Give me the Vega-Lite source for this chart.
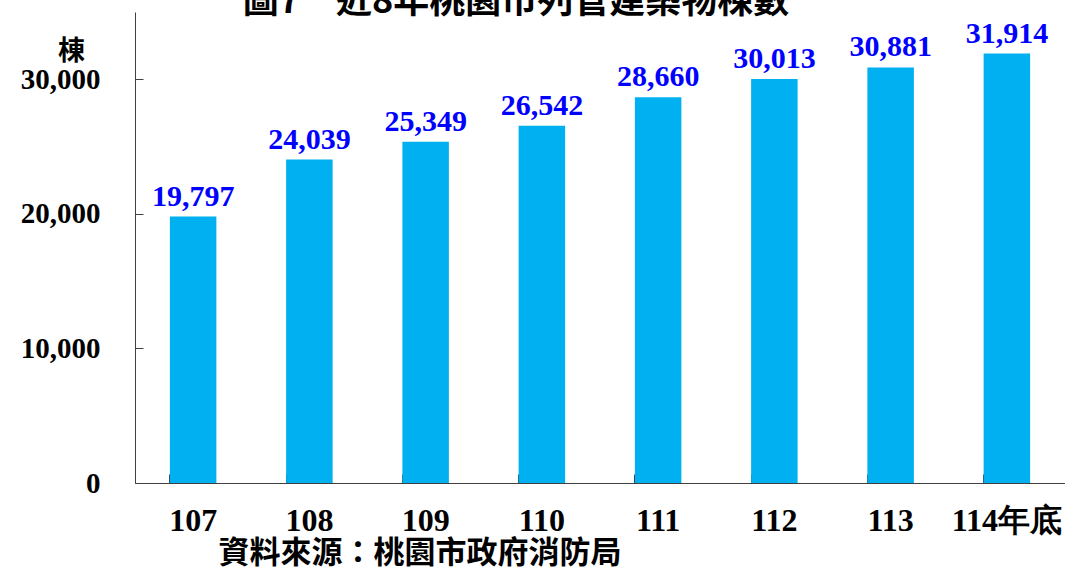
{
  "$schema": "https://vega.github.io/schema/vega-lite/v6.json",
  "autosize": "none",
  "width": 930,
  "height": 471,
  "padding": {"left": 135, "top": 12, "right": 0, "bottom": 87},
  "background": "white",
  "title": {
    "text": "圖7　近8年桃園市列管建築物棟數",
    "font": "Noto Sans CJK TC",
    "fontSize": 36,
    "fontWeight": "bold",
    "color": "black",
    "anchor": "middle",
    "dx": -84,
    "offset": 0,
    "dy": 9
  },
  "data": {
    "values": [
      {"year": "107", "value": 19797},
      {"year": "108", "value": 24039},
      {"year": "109", "value": 25349},
      {"year": "110", "value": 26542},
      {"year": "111", "value": 28660},
      {"year": "112", "value": 30013},
      {"year": "113", "value": 30881},
      {"year": "114年底", "value": 31914}
    ]
  },
  "config": {
    "view": {"stroke": null},
    "axis": {
      "grid": false,
      "domainColor": "#404040",
      "tickColor": "#404040",
      "labelColor": "black",
      "labelFont": "Liberation Serif",
      "labelFontWeight": "bold",
      "titleColor": "black",
      "titleFontWeight": "bold"
    }
  },
  "encoding": {
    "x": {
      "field": "year",
      "type": "nominal",
      "sort": null,
      "scale": {"paddingInner": 0.6, "paddingOuter": 0.3},
      "axis": {
        "title": "資料來源：桃園市政府消防局",
        "titleFont": "Noto Sans CJK TC",
        "titleFontSize": 31,
        "titleAlign": "left",
        "titleAnchor": "start",
        "titleBaseline": "middle",
        "titleX": 83,
        "titleY": 70,
        "labelAngle": 0,
        "labelFontSize": 32,
        "labelPadding": 31,
        "labelBaseline": "top",
        "tickSize": -9,
        "bandPosition": 0
      }
    },
    "y": {
      "field": "value",
      "type": "quantitative",
      "scale": {"domain": [0, 35000]},
      "axis": {
        "values": [0, 10000, 20000, 30000],
        "format": ",d",
        "title": "棟",
        "titleFont": "Noto Sans CJK TC",
        "titleFontSize": 27,
        "titleAngle": 0,
        "titleAlign": "center",
        "titleBaseline": "middle",
        "titleX": -64,
        "titleY": 39,
        "labelFontSize": 29,
        "labelPadding": 43,
        "tickSize": -8
      }
    }
  },
  "layer": [
    {"mark": {"type": "bar", "color": "#00B0F0"}},
    {
      "mark": {
        "type": "text",
        "color": "#0000FF",
        "font": "Liberation Serif",
        "fontWeight": "bold",
        "fontSize": 30,
        "baseline": "alphabetic",
        "dy": -11
      },
      "encoding": {"text": {"field": "value", "type": "quantitative", "format": ",d"}}
    }
  ]
}
